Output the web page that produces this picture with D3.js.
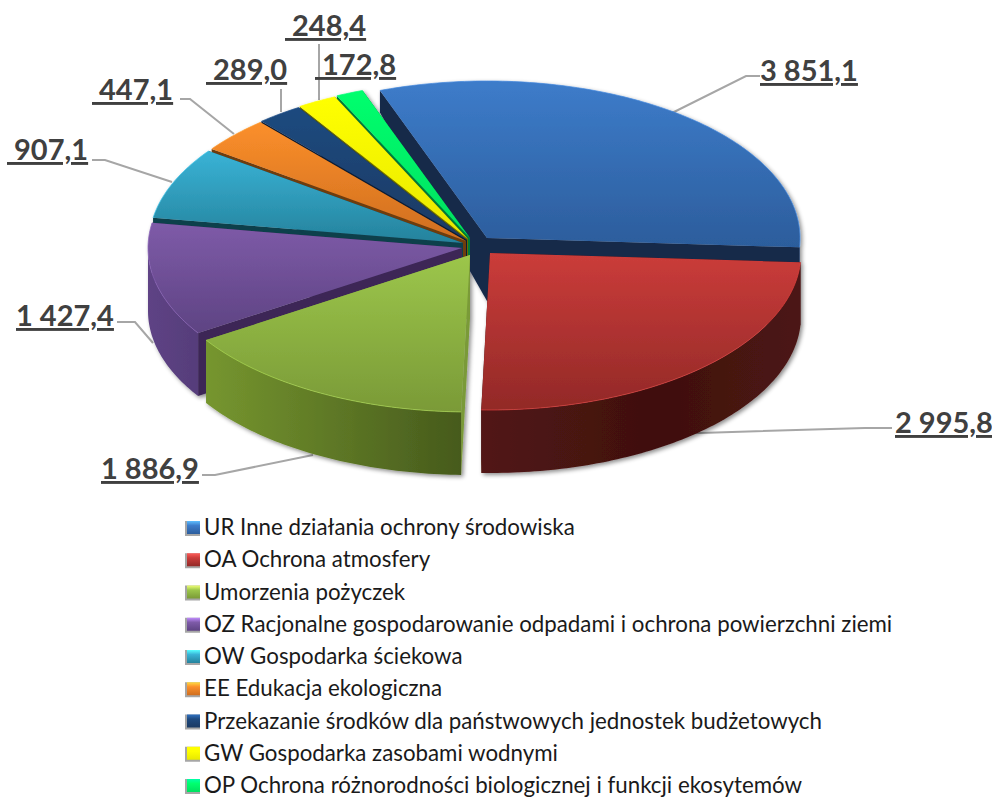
<!DOCTYPE html>
<html><head><meta charset="utf-8">
<script src="https://cdnjs.cloudflare.com/ajax/libs/d3/7.8.5/d3.min.js"></script>
<style>html,body{margin:0;padding:0;background:#fff;overflow:hidden}svg{display:block}</style>
</head><body><svg id="c" width="992" height="798"></svg>
<script>
// ---- data ----
const categories = ["UR Inne działania ochrony środowiska","OA Ochrona atmosfery","Umorzenia pożyczek","OZ Racjonalne gospodarowanie odpadami i ochrona powierzchni ziemi","OW Gospodarka ściekowa","EE Edukacja ekologiczna","Przekazanie środków dla państwowych jednostek budżetowych","GW Gospodarka zasobami wodnymi","OP Ochrona różnorodności biologicznej i funkcji ekosytemów"];
const values = [3851.1,2995.8,1886.9,1427.4,907.1,447.1,289.0,248.4,172.8];
// ---- style / layout ----
const topLight = ["#3d7cca","#cb3c3a","#9cc64b","#7e5ba8","#39b3d6","#fb8f2b","#1f4a7f","#ffff00","#00ff6e"];
const topDark  = ["#2c5d9c","#922927","#7a9a37","#5e4383","#25829c","#cf6e1f","#1b3a63","#e8e800","#00e060"];
const faceCol  = ["#14294a","#3a0f0e","#7a9a37","#3c2656","#113f4c","#6e3c10","#0b1d36","#6a6a00","#007a38"];
const wallL    = ["#1d3d68","#521614","#76962f","#5e4385","#1c5f72","#8a4f15","#12294a","#888800","#008a40"];
const wallR    = ["#1d3d68","#4c1513","#465a1c","#563d7a","#1c5f72","#8a4f15","#12294a","#888800","#008a40"];
const centres  = [[487,238],[490,253],[470,255],[462,248],[463,243],[466,241],[467,240],[468,239],[470,238]];
const radiiX   = [313,311,314,314,314,314,314,314,314];
const drawOrder = [0,8,7,6,5,4,3,2,1];
const ry = 157;
const labelAt = [[760,81,0],[895,433,0],[101,479,0],[16,326,0],[7,160,1],[92,100,1],[206,80,1],[285,36,1],[315,75,1]];
const leaders = [
 [[760,76],[746,76],[672,113]],
 [[892,428],[865,428],[700,433],[615,434]],
 [[202,475],[215,475],[313,455]],
 [[117,322],[135,322],[153,343]],
 [[92,160],[105,160],[172,182]],
 [[180,99],[190,99],[234,134]],
 [[281,89],[281,112]],
 [[319,44],[319,100]]
];
const legendX = 185, legendRows = d3.scaleLinear().domain([0,8]).range([528,786]);

const svg = d3.select("#c");
const defs = svg.append("defs");
const fmt = d3.formatLocale({decimal:",",thousands:"\u00a0",grouping:[3]}).format(",.1f");
const rad = d => d*Math.PI/180;
const pie = d3.pie().sort(null).startAngle(rad(-20)).endAngle(rad(340));
const arcs = pie(values);
const depth = d3.scaleLinear().domain([93,238]).range([22,63]).clamp(true);
const lineGen = d3.line();
const pt = (i,a) => [centres[i][0]+radiiX[i]*Math.sin(a), centres[i][1]-ry*Math.cos(a)];
const down = p => [p[0], p[1]+depth(p[1])];
const sample = (i,a0,a1) => { const n = Math.max(2,Math.ceil((a1-a0)/rad(1))); return d3.range(n+1).map(k=>pt(i,a0+(a1-a0)*k/n)); };

const f = defs.append("filter").attr("id","sh").attr("x","-5%").attr("y","-5%").attr("width","110%").attr("height","110%");
f.append("feDropShadow").attr("dx",2).attr("dy",2).attr("stdDeviation",2).attr("flood-color","#000").attr("flood-opacity",.45);

values.forEach((v,i)=>{
  const g = defs.append("linearGradient").attr("id","t"+i).attr("x1",0).attr("y1",0).attr("x2",0).attr("y2",1);
  g.append("stop").attr("offset",0).attr("stop-color",topLight[i]);
  g.append("stop").attr("offset",1).attr("stop-color",topDark[i]);
  const w = defs.append("linearGradient").attr("id","w"+i).attr("x1",0).attr("y1",0).attr("x2",1).attr("y2",0);
  w.append("stop").attr("offset",0).attr("stop-color",wallL[i]);
  if(i===1) w.append("stop").attr("offset",.55).attr("stop-color","#3f100f");
  w.append("stop").attr("offset",1).attr("stop-color",wallR[i]);
  const m = defs.append("linearGradient").attr("id","m"+i).attr("x1",0).attr("y1",0).attr("x2",0).attr("y2",1);
  m.append("stop").attr("offset",0).attr("stop-color",d3.color(topLight[i]).brighter(1.2));
  m.append("stop").attr("offset",.35).attr("stop-color",topLight[i]);
  m.append("stop").attr("offset",1).attr("stop-color",topDark[i]);
});

// leader lines
svg.append("g").selectAll("path").data(leaders).join("path")
  .attr("d",d=>lineGen(d)).attr("fill","none").attr("stroke","#a6a6a6").attr("stroke-width",2);

// pie
const pieG = svg.append("g").attr("filter","url(#sh)");
drawOrder.forEach(i=>{
  const a = arcs[i], g = pieG.append("g");
  const c = centres[i], cp = [c[0],c[1]];
  const p0 = pt(i,a.startAngle), p1 = pt(i,a.endAngle);
  const face = (p)=>lineGen([cp,p,down(p),down(cp)])+"Z";
  // cut faces
  g.append("path").attr("d",face(p0)).attr("fill",faceCol[i]);
  g.append("path").attr("d",face(p1)).attr("fill",faceCol[i]);
  // outer wall, front half only
  const w0 = Math.max(a.startAngle,Math.PI/2), w1 = Math.min(a.endAngle,3*Math.PI/2);
  if(w1>w0){
    const s = sample(i,w0,w1);
    g.append("path").attr("d",lineGen(s.concat(s.map(down).reverse()))+"Z").attr("fill",`url(#w${i})`);
  }
  // top
  const top = [cp].concat(sample(i,a.startAngle,a.endAngle));
  g.append("path").attr("d",lineGen(top)+"Z").attr("fill",`url(#t${i})`);
  // lit rim
  g.append("path").attr("d",lineGen(sample(i,a.startAngle,a.endAngle))).attr("fill","none")
    .attr("stroke",d3.color(topLight[i]).brighter(.25)).attr("stroke-opacity",.7).attr("stroke-width",1);
});

// value labels
svg.append("g").selectAll("text").data(values).join("text")
  .attr("x",(d,i)=>labelAt[i][0]).attr("y",(d,i)=>labelAt[i][1])
  .attr("font-family","Lato, sans-serif").attr("font-weight",700).attr("font-size",29)
  .attr("fill","#404040").attr("text-decoration","underline").attr("xml:space","preserve")
  .style("text-decoration-thickness","2.5px")
  .text((d,i)=>(labelAt[i][2]?"\u00a0":"")+fmt(d));

// legend
const lg = svg.append("g").selectAll("g").data(categories).join("g")
  .attr("transform",(d,i)=>`translate(${legendX},${legendRows(i)})`);
lg.append("rect").attr("x",0).attr("y",-7).attr("width",15).attr("height",15).attr("fill","#a6a6a6");
lg.append("rect").attr("x",2).attr("y",-7).attr("width",13).attr("height",13).attr("fill",(d,i)=>`url(#m${i})`);
lg.append("text").attr("x",19).attr("y",7).attr("font-family","Lato, sans-serif").attr("font-size",22.3)
  .attr("fill","#1a1a1a").text(d=>d);
</script></body></html>
